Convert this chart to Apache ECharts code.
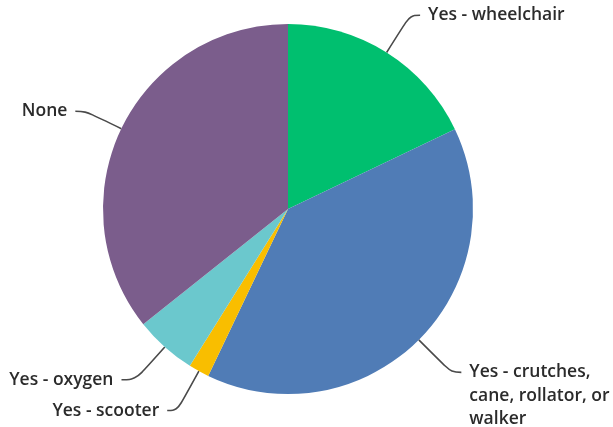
<!DOCTYPE html>
<html>
<head>
<meta charset="utf-8">
<script src="https://cdn.jsdelivr.net/npm/echarts@6/dist/echarts.min.js"></script>
<style>
  html, body { margin: 0; padding: 0; background: #fff; }
  #chart { width: 613px; height: 427px; }
</style>
</head>
<body>
<div id="chart"></div>
<script>
// Mobility aid responses, clockwise from 12 o'clock
const categories = [
  'Yes - wheelchair',
  'Yes - crutches,\ncane, rollator, or\nwalker',
  'Yes - scooter',
  'Yes - oxygen',
  'None'
];
const shares = [17.9, 39.2, 1.8, 5.4, 35.7];
const colors = ['#00BF6F', '#507CB6', '#F9BE00', '#6BC8CD', '#7B5D8C'];

// Leader line lengths per slice [radial, horizontal]
const leaders = [[44, 10], [46, 10], [45, 10], [44, 14], [40, 10]];

const data = categories.map((name, i) => ({
  name: name,
  value: shares[i],
  itemStyle: { color: colors[i] },
  labelLine: { length: leaders[i][0], length2: leaders[i][1] }
}));

const chart = echarts.init(document.getElementById('chart'));
chart.setOption({
  animation: false,
  series: [{
    type: 'pie',
    center: [288, 209],
    radius: 185,
    startAngle: 90,
    clockwise: true,
    avoidLabelOverlap: false,
    data: data,
    label: {
      show: true,
      // multi-line names hang below the leader line: pad with blank lines
      // so the first line sits at the line end
      formatter: p => {
        const n = p.name.split('\n').length;
        return '\n'.repeat(n - 1) + p.name;
      },
      color: '#2b2b2b',
      fontFamily: 'Open Sans',
      fontWeight: 600,
      fontSize: 17.5,
      lineHeight: 23.5,
      distanceToLabelLine: 8
    },
    labelLine: {
      show: true,
      smooth: 0.4,
      lineStyle: { color: '#4a4a4a', width: 1.6 }
    },
    emphasis: { disabled: true }
  }]
});
</script>
</body>
</html>
